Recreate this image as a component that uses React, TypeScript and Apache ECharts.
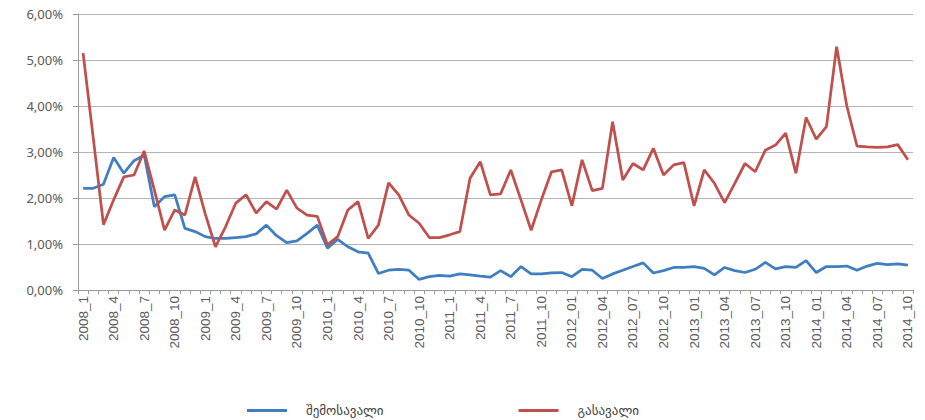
import React, { useEffect, useRef } from "react";
import * as echarts from "echarts";

const years = [2008, 2009, 2010, 2011, 2012, 2013, 2014];
const categories: string[] = [];
for (const y of years) {
  for (let m = 1; m <= 12; m++) {
    if (y === 2014 && m > 10) break;
    categories.push(y >= 2012 ? `${y}_${m < 10 ? "0" + m : m}` : `${y}_${m}`);
  }
}

const incomeName = "შემოსავალი";
const expenseName = "გასავალი";

const income = [
  2.21, 2.21, 2.3, 2.88, 2.54, 2.81, 2.93, 1.81, 2.03, 2.07, 1.34, 1.27,
  1.16, 1.12, 1.12, 1.14, 1.16, 1.22, 1.41, 1.18, 1.03, 1.07, 1.23, 1.41,
  0.91, 1.1, 0.94, 0.83, 0.8, 0.36, 0.43, 0.45, 0.43, 0.23, 0.29, 0.32,
  0.3, 0.35, 0.33, 0.3, 0.28, 0.42, 0.29, 0.51, 0.35, 0.35, 0.37, 0.38,
  0.29, 0.45, 0.43, 0.25, 0.35, 0.43, 0.51, 0.59, 0.37, 0.42, 0.49, 0.49,
  0.51, 0.47, 0.33, 0.49, 0.42, 0.38, 0.45, 0.6, 0.46, 0.51, 0.49, 0.64,
  0.38, 0.51, 0.51, 0.52, 0.43, 0.52, 0.58, 0.55, 0.57, 0.54,
];

const expense = [
  5.15, 3.3, 1.42, 1.96, 2.46, 2.5, 3.02, 2.17, 1.3, 1.74, 1.63, 2.46,
  1.65, 0.94, 1.38, 1.89, 2.07, 1.67, 1.92, 1.76, 2.17, 1.78, 1.63, 1.6,
  0.98, 1.16, 1.74, 1.92, 1.12, 1.41, 2.33, 2.07, 1.63, 1.45, 1.14, 1.14,
  1.2, 1.27, 2.43, 2.79, 2.07, 2.09, 2.61, 1.96, 1.3, 1.96, 2.57, 2.61,
  1.83, 2.83, 2.16, 2.21, 3.66, 2.39, 2.75, 2.61, 3.08, 2.5, 2.72, 2.77,
  1.83, 2.61, 2.32, 1.9, 2.32, 2.75, 2.57, 3.04, 3.15, 3.41, 2.54, 3.75,
  3.28, 3.55, 5.29, 4.0, 3.13, 3.11, 3.1, 3.11, 3.16, 2.83,
];

const yMin = 0;
const yMax = 6;
const yStep = 1;

export default function App() {
  const ref = useRef<HTMLDivElement>(null);
  useEffect(() => {
    if (!ref.current) return;
    const chart = echarts.init(ref.current, undefined, { renderer: "svg" });
    chart.setOption({
      animation: false,
      backgroundColor: "#ffffff",
      grid: { left: 78, right: 12, top: 14, bottom: 130, containLabel: false },
      legend: {
        left: 242,
        top: 399,
        icon: "rect",
        itemWidth: 40,
        itemHeight: 3,
        itemGap: 135,
        textStyle: {
          fontFamily: "DejaVu Sans",
          fontSize: 13,
          color: "#404040",
          padding: [0, 0, 0, 14],
        },
        data: [incomeName, expenseName],
      },
      xAxis: {
        type: "category",
        data: categories,
        boundaryGap: true,
        axisLine: { show: true, lineStyle: { color: "#9a9a9a", width: 1 } },
        axisTick: {
          show: true,
          interval: 0,
          length: 4,
          lineStyle: { color: "#9a9a9a" },
        },
        axisLabel: {
          interval: 2,
          rotate: 90,
          margin: 6,
          fontFamily: "Liberation Sans",
          fontSize: 13.5,
          color: "#595959",
        },
        splitLine: { show: false },
      },
      yAxis: {
        type: "value",
        min: yMin,
        max: yMax,
        interval: yStep,
        axisLine: { show: true, lineStyle: { color: "#9a9a9a", width: 1 } },
        axisTick: { show: true, length: 5, lineStyle: { color: "#9a9a9a" } },
        axisLabel: {
          margin: 15,
          fontFamily: "Noto Sans",
          fontSize: 13,
          color: "#595959",
          formatter: (v: number) => v.toFixed(2).replace(".", ",") + "%",
        },
        splitLine: { show: true, lineStyle: { color: "#b4b4b4", width: 1 } },
      },
      series: [
        {
          name: incomeName,
          type: "line",
          data: income,
          symbol: "none",
          lineStyle: { color: "#3f7ec0", width: 2.75 },
          itemStyle: { color: "#3f7ec0" },
        },
        {
          name: expenseName,
          type: "line",
          data: expense,
          symbol: "none",
          lineStyle: { color: "#c0504d", width: 2.75 },
          itemStyle: { color: "#c0504d" },
        },
      ],
    });
    return () => chart.dispose();
  }, []);
  return (
    <div
      ref={ref}
      style={{ position: "absolute", left: 0, top: 0, width: 925, height: 420 }}
    />
  );
}
